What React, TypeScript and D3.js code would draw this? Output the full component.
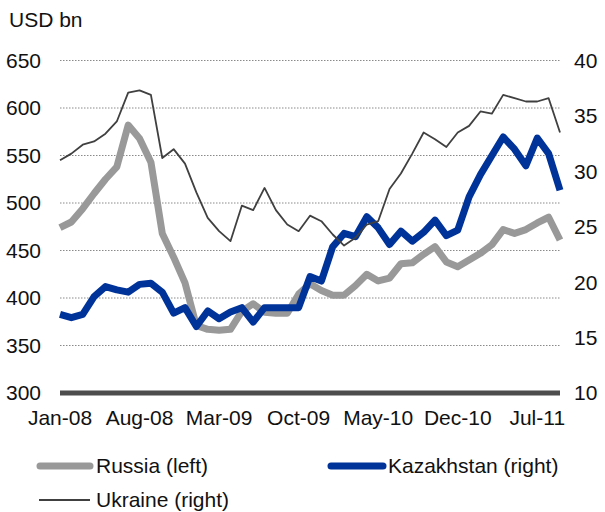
import React from "react";
import * as d3 from "d3";

const months: string[] = [
  "Jan-08","Feb-08","Mar-08","Apr-08","May-08","Jun-08","Jul-08","Aug-08","Sep-08","Oct-08","Nov-08","Dec-08",
  "Jan-09","Feb-09","Mar-09","Apr-09","May-09","Jun-09","Jul-09","Aug-09","Sep-09","Oct-09","Nov-09","Dec-09",
  "Jan-10","Feb-10","Mar-10","Apr-10","May-10","Jun-10","Jul-10","Aug-10","Sep-10","Oct-10","Nov-10","Dec-10",
  "Jan-11","Feb-11","Mar-11","Apr-11","May-11","Jun-11","Jul-11","Aug-11","Sep-11",
];

const xTickLabels: string[] = ["Jan-08", "Aug-08", "Mar-09", "Oct-09", "May-10", "Dec-10", "Jul-11"];
const leftTicks: number[] = [300, 350, 400, 450, 500, 550, 600, 650];
const rightTicks: number[] = [10, 15, 20, 25, 30, 35, 40];

const russia: number[] = [
  474, 480, 494, 510, 525, 538, 582, 568, 543, 468, 443, 416,
  371, 367, 366, 367, 386, 394, 385, 384, 384, 404, 415, 408,
  403, 403, 413, 425, 418, 421, 436, 437, 446, 454, 438, 433,
  440, 447, 456, 472, 468, 472, 479, 485, 461,
];

const kazakhstan: number[] = [
  17.1, 16.8, 17.1, 18.7, 19.6, 19.3, 19.1, 19.8, 19.9, 19.1, 17.2, 17.7,
  16.0, 17.4, 16.7, 17.3, 17.7, 16.4, 17.7, 17.7, 17.7, 17.7, 20.5, 20.1,
  23.2, 24.4, 24.1, 25.9, 24.9, 23.4, 24.6, 23.7, 24.5, 25.6, 24.2, 24.7,
  27.7, 29.7, 31.4, 33.1, 32.0, 30.5, 33.0, 31.6, 28.3,
];

const ukraine: number[] = [
  31.0, 31.6, 32.4, 32.7, 33.4, 34.5, 37.1, 37.3, 36.9, 31.2, 32.0, 30.7,
  28.1, 25.8, 24.6, 23.7, 26.9, 26.5, 28.5, 26.5, 25.2, 24.6, 26.0, 25.5,
  24.3, 23.3, 24.0, 25.2, 25.5, 28.4, 29.8, 31.6, 33.5, 32.9, 32.2, 33.5,
  34.1, 35.4, 35.2, 36.9, 36.6, 36.3, 36.3, 36.6, 33.5,
];

const FONT = "'Liberation Sans', Arial, sans-serif";
const C_RUSSIA = "#999999";
const C_KAZ = "#003399";
const C_UKR = "#404040";

export default function App() {
  const W = 605;
  const H = 512;
  const x0 = 60;
  const x1 = 560;
  const yTop = 60.5;
  const yBot = 393;

  const x = d3.scalePoint<string>().domain(months).range([x0, x1]);
  const yL = d3.scaleLinear().domain([300, 650]).range([yBot, yTop]);
  const yR = d3.scaleLinear().domain([10, 40]).range([yBot, yTop]);

  const lineL = d3
    .line<number>()
    .x((_, i) => x(months[i]) as number)
    .y((d) => yL(d));
  const lineR = d3
    .line<number>()
    .x((_, i) => x(months[i]) as number)
    .y((d) => yR(d));

  const textStyle = { fontFamily: FONT, fontSize: 21, fill: "#111" } as const;

  return (
    <svg
      width={W}
      height={H}
      style={{ position: "absolute", left: 0, top: 0, background: "#fff" }}
    >
      <text x={9} y={27} {...textStyle}>USD bn</text>

      {leftTicks.filter((t) => t !== 300).map((t) => (
        <line
          key={"g" + t}
          x1={x0}
          x2={x1}
          y1={yL(t)}
          y2={yL(t)}
          stroke="#8a8a8a"
          strokeWidth={1}
          strokeDasharray="1.5,1.5"
        />
      ))}

      {leftTicks.map((t) => (
        <text key={"l" + t} x={41} y={yL(t)} dy="0.35em" textAnchor="end" {...textStyle}>
          {t}
        </text>
      ))}
      {rightTicks.map((t) => (
        <text key={"r" + t} x={574} y={yR(t)} dy="0.35em" textAnchor="start" {...textStyle}>
          {t}
        </text>
      ))}

      <path d={lineL(russia) || ""} fill="none" stroke={C_RUSSIA} strokeWidth={7} strokeLinejoin="round" />
      <path d={lineR(kazakhstan) || ""} fill="none" stroke={C_KAZ} strokeWidth={7} strokeLinejoin="round" />
      <path d={lineR(ukraine) || ""} fill="none" stroke={C_UKR} strokeWidth={1.8} strokeLinejoin="round" />

      <line x1={x0} x2={x1} y1={yBot} y2={yBot} stroke="#4d4d4d" strokeWidth={5} />

      {xTickLabels.map((m) => (
        <text key={m} x={x(m) as number} y={425} textAnchor="middle" {...textStyle}>
          {m}
        </text>
      ))}

      <line x1={40} x2={90} y1={466} y2={466} stroke={C_RUSSIA} strokeWidth={7} strokeLinecap="round" />
      <text x={96} y={466} dy="0.35em" {...textStyle}>Russia (left)</text>
      <line x1={331} x2={383} y1={466} y2={466} stroke={C_KAZ} strokeWidth={7} strokeLinecap="round" />
      <text x={388} y={466} dy="0.35em" {...textStyle}>Kazakhstan (right)</text>
      <line x1={39} x2={90} y1={500} y2={500} stroke={C_UKR} strokeWidth={1.8} />
      <text x={96} y={500} dy="0.35em" {...textStyle}>Ukraine (right)</text>
    </svg>
  );
}
